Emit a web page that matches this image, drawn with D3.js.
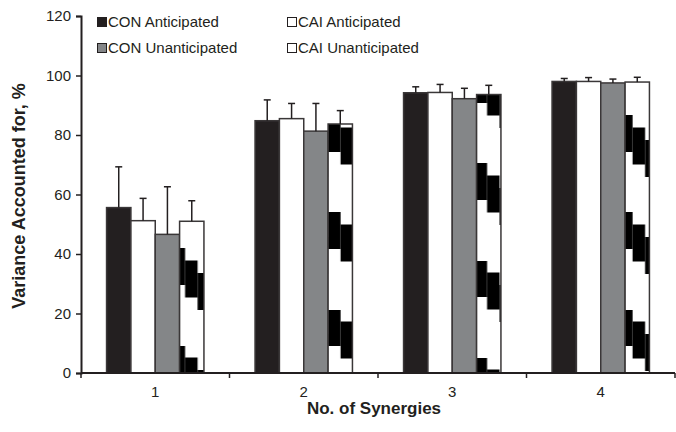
<!DOCTYPE html>
<html>
<head>
<meta charset="utf-8">
<script src="https://cdn.jsdelivr.net/npm/d3@7"></script>
<style>
  body { margin: 0; background: #fff; }
  text { font-family: "Liberation Sans", Arial, sans-serif; fill: #231f20; }
</style>
</head>
<body>
<div id="chart"></div>
<script>
// chart data
var categories = ["1", "2", "3", "4"];
var seriesNames = ["CON Anticipated", "CAI Anticipated", "CON Unanticipated", "CAI Unanticipated"];

var conAnticipated = [55.6, 84.8, 94.2, 98.0];
var caiAnticipated = [51.2, 85.5, 94.3, 98.0];
var conUnanticipated = [46.6, 81.3, 92.2, 97.5];
var caiUnanticipated = [51.0, 83.7, 93.6, 97.8];

// upper error (SD)
var conAnticipatedErr = [13.7, 7.0, 2.0, 1.0];
var caiAnticipatedErr = [7.5, 5.1, 2.7, 1.3];
var conUnanticipatedErr = [16.0, 9.3, 3.5, 1.3];
var caiUnanticipatedErr = [6.9, 4.5, 3.1, 1.6];

var yTicks = [0, 20, 40, 60, 80, 100, 120];

// #########################################################
// SVG canvas
// #########################################################
var W = 676, H = 432;
var margin = {top: 16, right: 1, bottom: 59, left: 81},
    width = W - margin.left - margin.right,
    height = H - margin.top - margin.bottom;

var svg = d3.select("#chart").append("svg")
    .attr("width", W)
    .attr("height", H);

var g = svg.append("g")
    .attr("transform", "translate(" + margin.left + "," + margin.top + ")");

// scales
var xScale = d3.scaleBand().domain(categories).range([0, width]).paddingInner(0);
var xSub = d3.scaleBand().domain(seriesNames).range([0, xScale.bandwidth()]).paddingOuter(1.05).paddingInner(0);
var yScale = d3.scaleLinear().domain([0, 120]).range([height, 0]);

var values = [conAnticipated, caiAnticipated, conUnanticipated, caiUnanticipated];
var errors = [conAnticipatedErr, caiAnticipatedErr, conUnanticipatedErr, caiUnanticipatedErr];
var fills = ["#231f20", "#ffffff", "#848688", "none"];

// table of bars built from the arrays
var bars = [];
categories.forEach(function(c, i) {
  seriesNames.forEach(function(s, k) {
    bars.push({cat: c, ci: i, series: s, k: k, v: values[k][i], e: errors[k][i]});
  });
});

// stair-step fill of the last series (one pattern per bar so the phase matches)
var defs = svg.append("defs");
var hatchDx = [-7, 0, -2, -5];
var hatchY = [248, 212, 163, 212];
var stepW = 12.5, stepH = 12.5, blockH = 37, period = 97;
categories.forEach(function(c, i) {
  var x0 = xScale(c) + xSub(seriesNames[3]) + hatchDx[i];
  var p = defs.append("pattern")
      .attr("id", "hatch" + i)
      .attr("patternUnits", "userSpaceOnUse")
      .attr("width", stepW * 3)
      .attr("height", period)
      .attr("patternTransform", "translate(" + x0 + "," + (hatchY[i] - margin.top) + ")");
  p.append("rect").attr("width", stepW * 3).attr("height", period).attr("fill", "#fff");
  [0, 1, 2].forEach(function(j) {
    p.append("rect")
      .attr("x", j * stepW).attr("y", j * stepH)
      .attr("width", stepW).attr("height", blockH)
      .attr("fill", "#000");
  });
});

// bars
g.append("g").selectAll("rect")
  .data(bars)
  .enter().append("rect")
    .attr("x", d => xScale(d.cat) + xSub(d.series))
    .attr("y", d => yScale(d.v))
    .attr("width", xSub.bandwidth())
    .attr("height", d => height - yScale(d.v))
    .attr("fill", d => d.k === 3 ? "url(#hatch" + d.ci + ")" : fills[d.k])
    .attr("stroke", "#3a3738")
    .attr("stroke-width", 1.5);

// error bars (upper only)
var eb = g.append("g").selectAll("g")
  .data(bars)
  .enter().append("g")
    .attr("stroke", "#231f20")
    .attr("stroke-width", 1.5);
eb.append("line")
    .attr("x1", d => xScale(d.cat) + xSub(d.series) + xSub.bandwidth() / 2)
    .attr("x2", d => xScale(d.cat) + xSub(d.series) + xSub.bandwidth() / 2)
    .attr("y1", d => yScale(d.v))
    .attr("y2", d => yScale(d.v + d.e));
eb.append("line")
    .attr("x1", d => xScale(d.cat) + xSub(d.series) + xSub.bandwidth() / 2 - 3.5)
    .attr("x2", d => xScale(d.cat) + xSub(d.series) + xSub.bandwidth() / 2 + 3.5)
    .attr("y1", d => yScale(d.v + d.e))
    .attr("y2", d => yScale(d.v + d.e));

// y axis
var yAxis = d3.axisLeft(yScale).tickValues(yTicks).tickSize(5).tickPadding(5);
var yG = g.append("g").call(yAxis);
yG.select(".domain").attr("stroke", "#231f20").attr("stroke-width", 2);
yG.selectAll(".tick line").attr("stroke", "#231f20").attr("stroke-width", 1.5);
yG.selectAll("text")
    .style("font-size", "15px")
    .style("font-family", "Liberation Sans, Arial, sans-serif")
    .attr("fill", "#231f20");

// x axis: ticks at the category boundaries
var xG = g.append("g").attr("transform", "translate(0," + height + ")");
xG.append("line")
    .attr("x1", 0).attr("x2", width)
    .attr("stroke", "#231f20").attr("stroke-width", 2);
xG.selectAll(".bound")
  .data(categories.concat(["end"]))
  .enter().append("line")
    .attr("x1", (d, i) => i * xScale.step())
    .attr("x2", (d, i) => i * xScale.step())
    .attr("y1", 0).attr("y2", 5)
    .attr("stroke", "#231f20").attr("stroke-width", 1.5);
xG.selectAll(".lab")
  .data(categories)
  .enter().append("text")
    .attr("x", d => xScale(d) + xScale.bandwidth() / 2)
    .attr("y", 24)
    .attr("text-anchor", "middle")
    .style("font-size", "15px")
    .text(d => d);

// axis titles
svg.append("text")
    .attr("x", margin.left + width / 2 - 4)
    .attr("y", 414)
    .attr("text-anchor", "middle")
    .style("font-size", "17px")
    .style("font-weight", "bold")
    .text("No. of Synergies");

svg.append("text")
    .attr("transform", "translate(19," + 196 + ") rotate(-90)")
    .attr("text-anchor", "middle")
    .attr("dy", "0.35em")
    .style("font-size", "18px")
    .style("font-weight", "bold")
    .text("Variance Accounted for, %");

// legend
var legendFills = ["#231f20", "#ffffff", "#848688", "#ffffff"];
var legendX = [97, 287], legendY = [22, 48];
var legend = svg.append("g").selectAll("g")
  .data(seriesNames)
  .enter().append("g")
    .attr("transform", (d, i) => "translate(" + legendX[i % 2] + "," + legendY[Math.floor(i / 2)] + ")");
legend.append("rect")
    .attr("x", 0.5).attr("y", -4.5)
    .attr("width", 9).attr("height", 9)
    .attr("fill", (d, i) => legendFills[i])
    .attr("stroke", "#231f20").attr("stroke-width", 1);
legend.append("text")
    .attr("x", 11)
    .attr("dy", "0.36em")
    .style("font-size", "15px")
    .text(d => d);
</script>
</body>
</html>
